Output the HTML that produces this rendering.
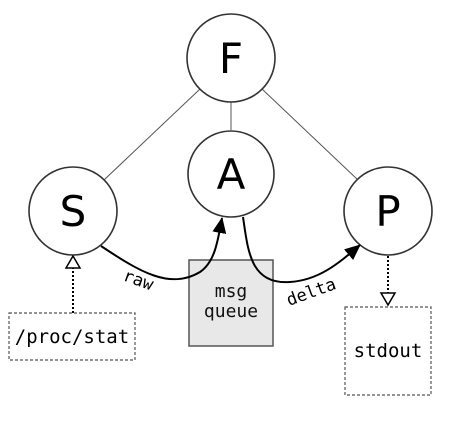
<!DOCTYPE html>
<html><head><style>body{margin:0;background:#fff}</style></head><body>
<svg width="453" height="431" xmlns="http://www.w3.org/2000/svg">
<defs>
<marker id="ah" markerWidth="16" markerHeight="14" refX="15" refY="7" orient="auto" markerUnits="userSpaceOnUse"><path d="M0,0 L16,7 L0,14 z" fill="#000"/></marker>
</defs>
<g stroke="#555" stroke-width="1">
<line x1="200" y1="89" x2="104" y2="180"/>
<line x1="231" y1="102" x2="231" y2="130"/>
<line x1="262" y1="89" x2="358" y2="180"/>
</g>
<g fill="#fff" stroke="#333" stroke-width="1.6">
<circle cx="231" cy="58" r="44"/>
<circle cx="231" cy="174" r="43"/>
<circle cx="73" cy="211" r="44"/>
<circle cx="388" cy="211" r="44"/>
</g>
<g font-family="DejaVu Sans, sans-serif" font-size="42" text-anchor="middle" fill="#000">
<text x="231" y="73">F</text>
<text x="231" y="189">A</text>
<text x="73" y="226">S</text>
<text x="388" y="226">P</text>
</g>
<rect x="189" y="260" width="84" height="86" fill="#e8e8e8" stroke="#555" stroke-width="1.5"/>
<g font-family="DejaVu Sans Mono, monospace" font-size="18" text-anchor="middle" fill="#111">
<text x="231" y="297">msg</text><text x="231" y="317">queue</text>
</g>
<rect x="9" y="313" width="126" height="47" fill="#fff" stroke="#555" stroke-width="1.2" stroke-dasharray="3,2"/>
<text x="72" y="343" font-family="DejaVu Sans Mono, monospace" font-size="19" text-anchor="middle">/proc/stat</text>
<rect x="345" y="307" width="86" height="88" fill="#fff" stroke="#555" stroke-width="1.2" stroke-dasharray="3,2"/>
<text x="388" y="357" font-family="DejaVu Sans Mono, monospace" font-size="19" text-anchor="middle">stdout</text>
<line x1="73" y1="313" x2="73" y2="268" stroke="#000" stroke-width="2" stroke-dasharray="2,2"/>
<path d="M73,256 L80,268 L66,268 z" fill="#fff" stroke="#000" stroke-width="1.5"/>
<line x1="388" y1="256" x2="388" y2="293" stroke="#000" stroke-width="2" stroke-dasharray="2,2"/>
<path d="M381,293 L395,293 L388,305 z" fill="#fff" stroke="#000" stroke-width="1.5"/>
<path d="M101,246 C140,272 170,290 200,272 C215,262 218,240 222,218" fill="none" stroke="#000" stroke-width="2" marker-end="url(#ah)"/>
<path d="M243,217 C248,250 250,285 290,282 C320,280 340,262 360,245" fill="none" stroke="#000" stroke-width="2" marker-end="url(#ah)"/>
<text x="0" y="0" transform="translate(122,280) rotate(20)" font-family="DejaVu Sans Mono, monospace" font-size="17">raw</text>
<text x="0" y="0" transform="translate(289,306) rotate(-20)" font-family="DejaVu Sans Mono, monospace" font-size="17">delta</text>
</svg>
</body></html>
